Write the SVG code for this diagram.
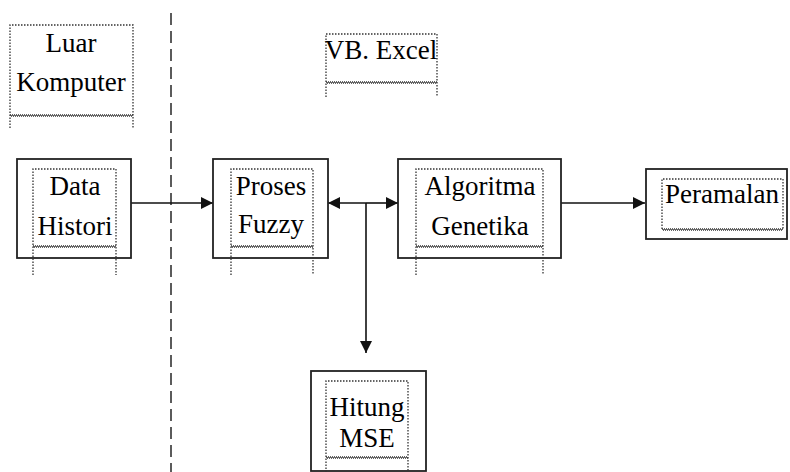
<svg xmlns="http://www.w3.org/2000/svg" width="790" height="472" viewBox="0 0 790 472">
<defs>
<style>
.solid{fill:#fff;stroke:#222;stroke-width:1.8}
.dot{fill:none;stroke:#333;stroke-width:1.3;stroke-dasharray:1.5 1.5}
.wavy{fill:none;stroke:#333;stroke-width:1.3;stroke-dasharray:1 1}
.ln{fill:none;stroke:#111;stroke-width:1.6}
</style>
<marker id="ah" viewBox="0 0 12 12" refX="12" refY="6" markerWidth="12" markerHeight="12" markerUnits="userSpaceOnUse" orient="auto-start-reverse">
<path d="M0,0 L12,6 L0,12 z" fill="#111"/>
</marker>
</defs>
<rect width="790" height="472" fill="#fff"/>
<line x1="171" y1="13" x2="171" y2="472" stroke="#333" stroke-width="1.6" stroke-dasharray="12 6"/>

<g id="connectors">
<line class="ln" x1="131" y1="203" x2="213" y2="203" marker-end="url(#ah)"/>
<line class="ln" x1="328" y1="203" x2="366" y2="203" marker-start="url(#ah)"/>
<line class="ln" x1="366" y1="203" x2="398" y2="203" marker-end="url(#ah)"/>
<line class="ln" x1="366" y1="203" x2="366" y2="353" marker-end="url(#ah)"/>
<line class="ln" x1="561" y1="203" x2="645" y2="203" marker-end="url(#ah)"/>
</g>

<g id="luar">
<path class="dot" d="M10,128 V25 H133 V128"/>
<line class="wavy" x1="10" y1="115" x2="133" y2="115"/>
<line class="wavy" x1="11" y1="116" x2="133" y2="116"/>
<text x="71" y="52" font-family="Times New Roman, serif" font-size="27" text-anchor="middle">Luar</text>
<text x="71" y="91" font-family="Times New Roman, serif" font-size="27" text-anchor="middle">Komputer</text>
</g>

<g id="vbexcel">
<path class="dot" d="M326,97 V34 H437 V97"/>
<line class="wavy" x1="326" y1="82" x2="437" y2="82"/>
<line class="wavy" x1="327" y1="83" x2="437" y2="83"/>
<text x="381" y="59" font-family="Times New Roman, serif" font-size="27" text-anchor="middle">VB. Excel</text>
</g>

<g id="data-histori">
<rect class="solid" x="17" y="159" width="114" height="99"/>
<path class="dot" d="M33,275 V169 H116 V275"/>
<line class="wavy" x1="33" y1="246" x2="116" y2="246"/>
<line class="wavy" x1="34" y1="247" x2="116" y2="247"/>
<text x="75" y="195" font-family="Times New Roman, serif" font-size="27" text-anchor="middle">Data</text>
<text x="75" y="235" font-family="Times New Roman, serif" font-size="27" text-anchor="middle">Histori</text>
</g>

<g id="proses-fuzzy">
<rect class="solid" x="213" y="159" width="115" height="99"/>
<path class="dot" d="M231,275 V169 H313 V275"/>
<line class="wavy" x1="231" y1="246" x2="313" y2="246"/>
<line class="wavy" x1="232" y1="247" x2="313" y2="247"/>
<text x="271" y="195" font-family="Times New Roman, serif" font-size="27" text-anchor="middle">Proses</text>
<text x="271" y="233" font-family="Times New Roman, serif" font-size="27" text-anchor="middle">Fuzzy</text>
</g>

<g id="algoritma-genetika">
<rect class="solid" x="398" y="159" width="163" height="99"/>
<path class="dot" d="M416,275 V169 H543 V275"/>
<line class="wavy" x1="416" y1="246" x2="543" y2="246"/>
<line class="wavy" x1="417" y1="247" x2="543" y2="247"/>
<text x="480" y="195" font-family="Times New Roman, serif" font-size="27" text-anchor="middle">Algoritma</text>
<text x="480" y="235" font-family="Times New Roman, serif" font-size="27" text-anchor="middle">Genetika</text>
</g>

<g id="peramalan">
<rect class="solid" x="646" y="169" width="141" height="70"/>
<path class="dot" d="M662,229 V179 H783 V229"/>
<line class="wavy" x1="662" y1="229" x2="783" y2="229"/>
<line class="wavy" x1="663" y1="230" x2="783" y2="230"/>
<text x="722" y="203" font-family="Times New Roman, serif" font-size="27" text-anchor="middle">Peramalan</text>
</g>

<g id="hitung-mse">
<rect class="solid" x="311" y="371" width="115" height="100"/>
<path class="dot" d="M326,472 V381 H408 V472"/>
<line class="wavy" x1="326" y1="457" x2="408" y2="457"/>
<line class="wavy" x1="327" y1="458" x2="408" y2="458"/>
<text x="367" y="416" font-family="Times New Roman, serif" font-size="27" text-anchor="middle">Hitung</text>
<text x="367" y="447" font-family="Times New Roman, serif" font-size="27" text-anchor="middle">MSE</text>
</g>
</svg>
